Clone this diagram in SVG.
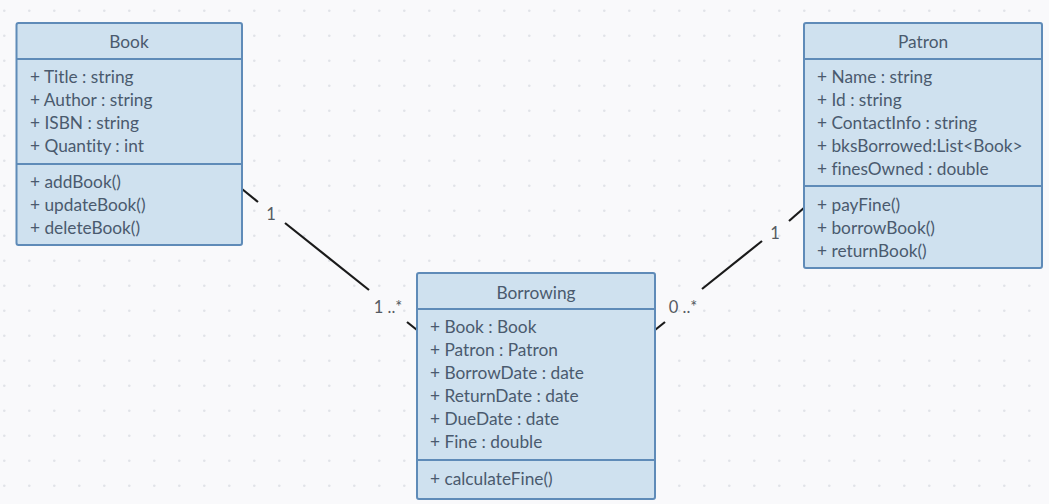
<svg xmlns="http://www.w3.org/2000/svg" width="1049" height="504" viewBox="0 0 1049 504">
<defs>
<pattern id="dots" x="0" y="0" width="25" height="25" patternUnits="userSpaceOnUse">
<circle cx="4.3" cy="10.7" r="1.3" fill="#e1e3e8"/>
</pattern>
<style>
.box{fill:#cfe1ef;stroke:#5f8bb8;stroke-width:2}
.div{stroke:#5f8bb8;stroke-width:2}
text{font-family:Lato,"Open Sans",sans-serif;font-size:17.3px;fill:#4a5a6e;font-variant-ligatures:none}
.t{text-anchor:middle}
.m{font-size:16.5px;fill:#555b62}
.ln{stroke:#1a1a1a;stroke-width:2.2;fill:none}
</style>
</defs>
<rect width="1049" height="504" fill="#f9f9fb"/>
<rect width="1049" height="504" fill="url(#dots)"/>
<g id="connectors">
<line class="ln" x1="242" y1="189" x2="258" y2="202"/>
<line class="ln" x1="285" y1="223" x2="369" y2="290"/>
<line class="ln" x1="407" y1="322" x2="417" y2="330"/>
<line class="ln" x1="655" y1="330" x2="665" y2="322"/>
<line class="ln" x1="702" y1="289" x2="762" y2="241"/>
<line class="ln" x1="789" y1="221" x2="805" y2="207"/>
<text class="m" x="271" y="220" text-anchor="middle">1</text>
<text class="m" x="388" y="313" text-anchor="middle">1 ..*</text>
<text class="m" x="683" y="313" text-anchor="middle">0 ..*</text>
<text class="m" x="775" y="239" text-anchor="middle">1</text>
</g>
<g id="book">
<rect class="box" x="16.5" y="23" width="225.5" height="222" rx="2"/>
<line class="div" x1="16.5" y1="59" x2="242" y2="59"/>
<line class="div" x1="16.5" y1="164" x2="242" y2="164"/>
<text class="t" x="129" y="48">Book</text>
<text x="30" y="83">+ Title : string</text>
<text x="30" y="106">+ Author : string</text>
<text x="30" y="129">+ ISBN : string</text>
<text x="30" y="152">+ Quantity : int</text>
<text x="30" y="188">+ addBook()</text>
<text x="30" y="211">+ updateBook()</text>
<text x="30" y="234">+ deleteBook()</text>
</g>
<g id="patron">
<rect class="box" x="804" y="23" width="238" height="245" rx="2"/>
<line class="div" x1="804" y1="59" x2="1042" y2="59"/>
<line class="div" x1="804" y1="186" x2="1042" y2="186"/>
<text class="t" x="923" y="48">Patron</text>
<text x="817" y="83">+ Name : string</text>
<text x="817" y="106">+ Id : string</text>
<text x="817" y="129">+ ContactInfo : string</text>
<text x="817" y="152">+ bksBorrowed:List&lt;Book&gt;</text>
<text x="817" y="175">+ finesOwned : double</text>
<text x="817" y="211">+ payFine()</text>
<text x="817" y="234">+ borrowBook()</text>
<text x="817" y="257">+ returnBook()</text>
</g>
<g id="borrowing">
<rect class="box" x="417" y="273" width="238" height="226" rx="2"/>
<line class="div" x1="417" y1="309" x2="655" y2="309"/>
<line class="div" x1="417" y1="460" x2="655" y2="460"/>
<text class="t" x="536" y="299">Borrowing</text>
<text x="430" y="333">+ Book : Book</text>
<text x="430" y="356">+ Patron : Patron</text>
<text x="430" y="379">+ BorrowDate : date</text>
<text x="430" y="402">+ ReturnDate : date</text>
<text x="430" y="425">+ DueDate : date</text>
<text x="430" y="448">+ Fine : double</text>
<text x="430" y="485">+ calculateFine()</text>
</g>
</svg>
